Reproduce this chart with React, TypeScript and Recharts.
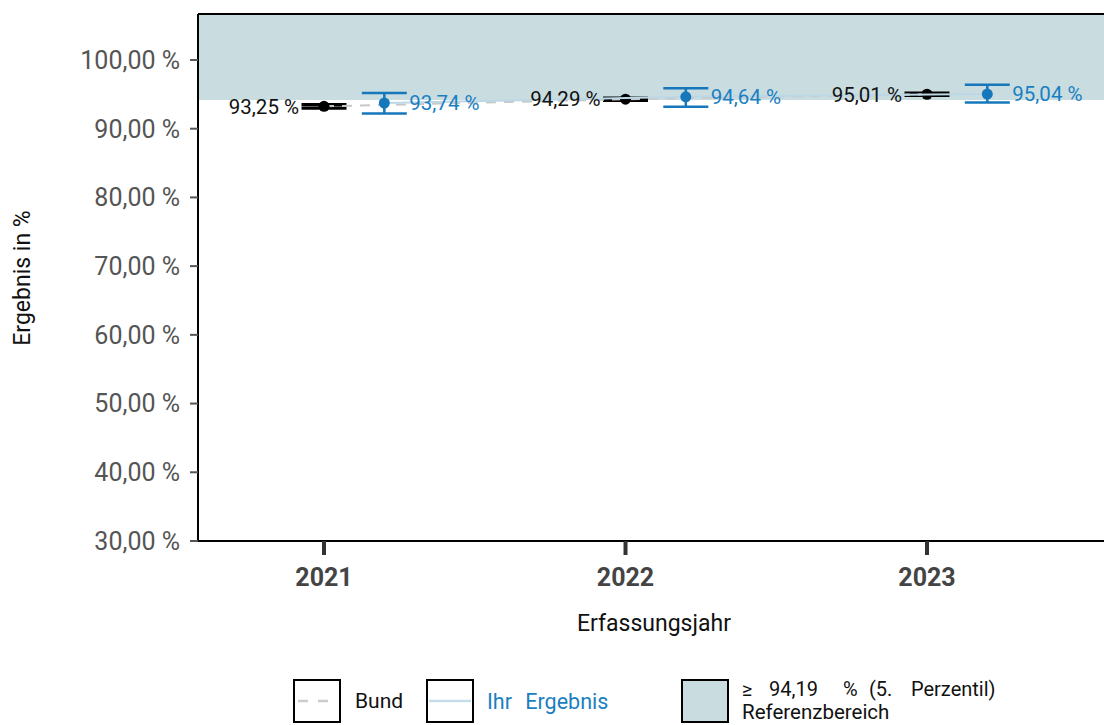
import { ComposedChart, Scatter, ErrorBar, XAxis, YAxis, ReferenceArea, ReferenceLine } from 'recharts';

const years = [2021, 2022, 2023];
const bundValues = [93.25, 94.29, 95.01];
const bundLower = [93.0, 94.12, 94.84];
const bundUpper = [93.5, 94.46, 95.18];
const ihrValues = [93.74, 94.64, 95.04];
const ihrLower = [92.2, 93.2, 93.8];
const ihrUpper = [95.2, 95.9, 96.4];
const yTicks = [30, 40, 50, 60, 70, 80, 90, 100];
const referenceLimit = 94.19;

const X_DOMAIN: [number, number] = [2020.582, 2023.607];
const DODGE = 0.2;
const Y_DOMAIN: [number, number] = [30, 106.69];

const BLUE = '#1677ba';
const BAND = '#c9dde0';

const fmt = (v: number) => v.toFixed(2).replace('.', ',') + ' %';

const bundData = years.map((year, i) => ({
  x: year,
  y: bundValues[i],
  err: [bundValues[i] - bundLower[i], bundUpper[i] - bundValues[i]],
}));

const ihrData = years.map((year, i) => ({
  x: year,
  y: ihrValues[i],
  err: [ihrValues[i] - ihrLower[i], ihrUpper[i] - ihrValues[i]],
}));

const dot = (color: string) => (p: any) => <circle cx={p.cx} cy={p.cy} r={5.5} fill={color} />;

// labels drawn in a last pass so they sit on top of the lines
const BundLabel = (p: any) => (
  <text x={p.cx - 25} y={p.cy} dy="0.355em" textAnchor="end" fontSize={20.5} fill="#111">
    {fmt(p.payload.y)}
  </text>
);

const IhrLabel = (p: any) => (
  <text x={p.cx + 25} y={p.cy} dy="0.355em" textAnchor="start" fontSize={20.5} fill="#1a7fc1">
    {fmt(p.payload.y)}
  </text>
);

export default function App() {
  return (
    <div
      style={{
        position: 'absolute',
        left: 0,
        top: 0,
        width: 1104,
        height: 725,
        overflow: 'hidden',
        background: '#fff',
        fontFamily: 'Roboto, sans-serif',
      }}
    >
      <ComposedChart width={1120} height={725} margin={{ top: 14, right: 10, bottom: 84, left: 0 }}>
        <XAxis
          dataKey="x"
          type="number"
          domain={X_DOMAIN}
          allowDataOverflow
          ticks={years}
          tickFormatter={(v) => String(v)}
          height={100}
          axisLine={{ stroke: '#000', strokeWidth: 2 }}
          tickLine={{ stroke: '#333', strokeWidth: 4 }}
          tickSize={14}
          tickMargin={13}
          tick={{ fontSize: 25, fontWeight: 700, fill: '#444' }}
          label={{ value: 'Erfassungsjahr', position: 'insideBottom', offset: 10, fontSize: 23, fill: '#111' }}
        />
        <XAxis
          xAxisId="ihr"
          dataKey="x"
          type="number"
          domain={[X_DOMAIN[0] - DODGE, X_DOMAIN[1] - DODGE]}
          allowDataOverflow
          hide
        />
        <YAxis
          type="number"
          domain={Y_DOMAIN}
          allowDataOverflow
          ticks={yTicks}
          tickFormatter={fmt}
          width={198}
          axisLine={{ stroke: '#000', strokeWidth: 2 }}
          tickLine={{ stroke: '#555', strokeWidth: 2 }}
          tickSize={8}
          tickMargin={10}
          tick={{ fontSize: 25, fill: '#555' }}
        />
        <ReferenceArea y1={referenceLimit} y2={Y_DOMAIN[1]} fill={BAND} fillOpacity={1} stroke="none" />
        <ReferenceLine y={Y_DOMAIN[1]} stroke="#000" strokeWidth={2} />
        <Scatter
          data={bundData}
          dataKey="y"
          isAnimationActive={false}
          line={{ stroke: '#c8c8c8', strokeWidth: 2, strokeDasharray: '10 8' }}
          shape={dot('#000')}
        >
          <ErrorBar dataKey="err" direction="y" width={22.5} stroke="#000" strokeWidth={3.2} isAnimationActive={false} />
        </Scatter>
        <Scatter
          data={ihrData}
          dataKey="y"
          xAxisId="ihr"
          isAnimationActive={false}
          line={{ stroke: '#bcd7e6', strokeWidth: 2 }}
          shape={dot(BLUE)}
        >
          <ErrorBar dataKey="err" direction="y" width={22.5} stroke={BLUE} strokeWidth={2.5} isAnimationActive={false} />
        </Scatter>
        <Scatter data={bundData} dataKey="y" isAnimationActive={false} shape={BundLabel} />
        <Scatter data={ihrData} dataKey="y" xAxisId="ihr" isAnimationActive={false} shape={IhrLabel} />
      </ComposedChart>

      <svg
        width={1104}
        height={725}
        style={{ position: 'absolute', left: 0, top: 0, pointerEvents: 'none' }}
      >
        <text x={22} y={278} transform="rotate(-90 22 278)" textAnchor="middle" dy="0.355em" fontSize={23} fill="#111">
          Ergebnis in %
        </text>

        <rect x={294} y={680} width={46} height={42} fill="#fff" stroke="#000" strokeWidth={2} />
        <line x1={298} y1={701} x2={337} y2={701} stroke="#ccc" strokeWidth={2.5} strokeDasharray="10 10" />
        <text x={355} y={701} dy="0.355em" fontSize={21} fill="#111">Bund</text>

        <rect x={427} y={680} width={46} height={42} fill="#fff" stroke="#000" strokeWidth={2} />
        <line x1={429} y1={701} x2={471} y2={701} stroke="#c5dde9" strokeWidth={2.5} />
        <text x={487} y={701} dy="0.355em" fontSize={21.5} fill="#1a7fc1" wordSpacing={8}>Ihr Ergebnis</text>

        <rect x={682} y={680} width={46} height={42} fill={BAND} stroke="#000" strokeWidth={2} />
        <text y={689} dy="0.355em" fontSize={20} fill="#111">
          <tspan x={742}>≥</tspan>
          <tspan x={769}>94,19</tspan>
          <tspan x={843}>%</tspan>
          <tspan x={869}>(5.</tspan>
          <tspan x={911}>Perzentil)</tspan>
        </text>
        <text x={742} y={712} dy="0.355em" fontSize={20.5} fill="#111">Referenzbereich</text>
      </svg>
    </div>
  );
}
